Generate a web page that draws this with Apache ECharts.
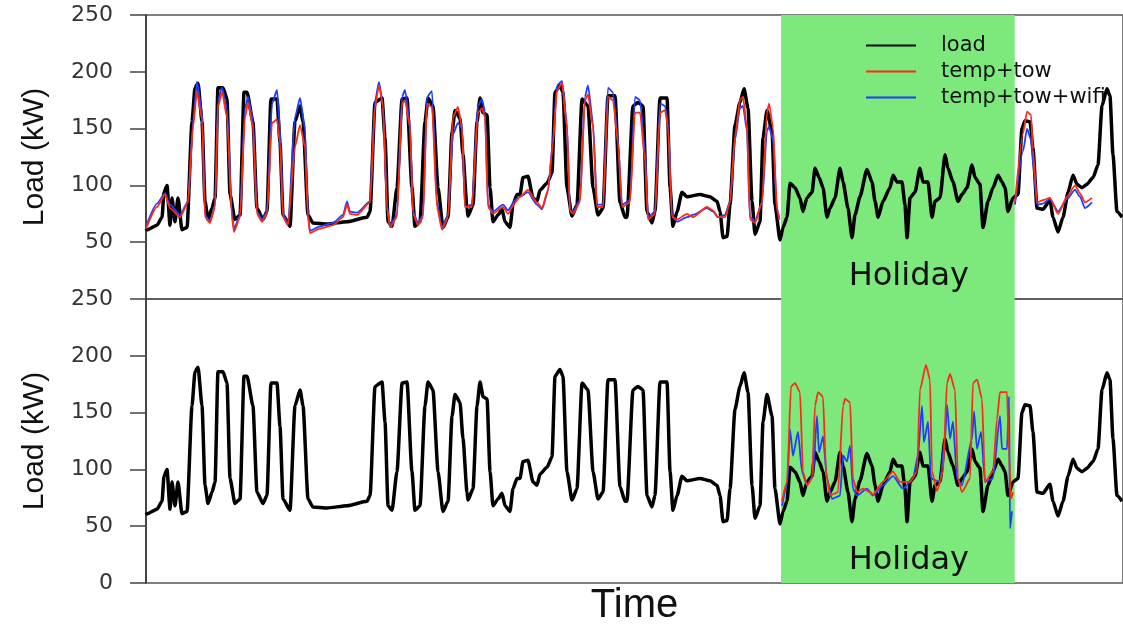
<!DOCTYPE html>
<html>
<head>
<meta charset="utf-8">
<script src="https://cdn.jsdelivr.net/npm/echarts@6/dist/echarts.min.js"></script>
<style>
  html, body { margin: 0; padding: 0; background: #fff; }
  #chart { width: 1123px; height: 627px; }
</style>
</head>
<body>
<div id="chart"></div>
<script>
// time in hours from the start of the record, load in kW
const load = [
  [0,60],[1,61],[10.2,65],[14.9,72],[16.7,94],[19.5,100],[22.3,65],[24.1,89],[26.9,68],[29.7,89],[33.4,61],[38.1,63],
  [42.7,156],[45.5,186],[48.3,190],[52.0,156],[54.8,86],[57.6,70],[61.3,80],[64.1,89],
  [66.8,186],[71.5,186],[75.2,176],[78.0,92],[82.6,70],[87.3,74],
  [91.0,182],[93.8,182],[99.3,156],[103.0,80],[108.6,70],[112.3,77],
  [116.0,176],[121.6,176],[124.4,138],[127.2,74],[133.7,64],
  [138.3,156],[143.0,170],[145.8,156],[150.4,74],[155.0,67],[168.0,66],[186.6,68],[205.2,72],[208.0,77],
  [212.6,173],[219.1,177],[221.9,142],[224.7,68],[228.4,64],[233.0,98],
  [237.7,176],[242.3,177],[246.9,98],[249.7,64],[254.4,68],
  [259.0,156],[261.8,177],[266.4,170],[271.1,98],[275.7,63],[280.4,72],
  [284.1,147],[286.9,166],[291.5,159],[294.3,127],[298.0,80],[298.9,73],[303.6,83],
  [307.3,156],[310.1,177],[312.9,164],[316.6,162],[319.4,98],[322.1,68],
  [326.8,74],[330.5,79],[333.3,68],[337.9,63],[340.7,83],[344.4,92],[347.2,92],[350.0,107],[354.6,108],
  [359.3,89],[363.0,86],[365.8,96],[372.3,102],[376.9,111],
  [379.7,182],[384.3,188],[387.1,182],[390.8,98],[395.5,73],[400.1,83],
  [404.8,176],[410.3,170],[415.0,98],[419.6,74],[424.3,80],
  [428.9,179],[435.4,179],[440.0,85],[444.7,72],[446.5,72],
  [452.1,170],[456.7,173],[461.4,170],[465.1,77],[469.7,67],[472.5,77],
  [477.2,177],[483.7,177],[486.5,98],[489.2,64],[493.0,77],[497.6,94],[502.2,90],[514.3,92],[523.6,90],
  [530.1,86],[532.9,77],[535.7,54],[539.4,55],[542.2,83],
  [546.8,153],[551.4,173],[555.2,185],[558.9,168],[562.6,86],[565.4,57],[570.0,68],
  [572.8,142],[576.5,166],[581.2,147],[583.9,83],[588.6,52],[591.4,63],
  [595.1,72],[597.9,102],[602.5,98],[607.1,89],[609.9,77],[613.6,89],[618.3,94],[621.1,115],[624.8,107],
  [628.5,98],[632.2,72],[635.0,80],[639.6,89],[644.3,115],[647.1,103],[651.7,80],[655.4,54],[658.2,74],
  [662.8,90],[669.3,114],[674.0,103],[676.8,86],[679.6,72],[684.2,86],[690.7,98],[693.5,109],[697.2,103],
  [701.8,103],[704.6,83],[706.5,54],[709.3,89],[713.9,94],[718.5,115],[721.3,103],[726.0,103],[729.7,72],
  [732.5,86],[737.1,89],[741.8,127],[744.5,115],[749.2,103],[753.8,86],[757.5,92],[762.2,98],[766.8,118],
  [769.6,107],[774.2,101],[777.0,63],[781.7,86],[786.3,98],[791.0,109],[794.7,103],[797.5,98],[800.2,77],
  [804.9,89],[809.5,92],[813.2,150],[816.0,157],[820.7,156],[823.4,133],[827.2,80],[832.7,79],[839.2,87],
  [842.0,72],[846.7,59],[851.3,72],[856.0,94],[860.6,109],[864.3,101],[868.9,98],[873.6,101],[879.2,107],
  [883.8,118],[887.5,170],[892.1,185],[894.9,179],[897.7,127],[901.4,77],[906.1,72]
];

// predictions on normal days (upper panel)
const tempTow = [
  [0,62],[10.2,81],[17.6,92],[22.3,80],[31.6,72],[39.0,85],
  [43.6,151],[47.3,182],[52.0,158],[54.8,72],[59.4,67],[64.1,81],
  [66.8,169],[70.6,182],[75.2,160],[79.8,72],[81.7,59],[87.3,72],
  [91.9,160],[94.7,173],[99.3,151],[103.0,75],[107.7,68],[112.3,75],
  [117.0,155],[121.6,158],[124.4,137],[127.2,72],[131.8,65],
  [138.3,134],[143.0,153],[147.6,134],[150.4,72],[152.2,58],[161.5,62],[173.6,65],[182.9,72],[186.6,83],
  [189.4,75],[195.9,74],[208.0,85],
  [212.6,169],[216.3,188],[220.0,169],[223.7,81],[226.5,63],[233.0,72],
  [237.7,172],[240.4,175],[245.1,151],[247.9,75],[252.5,65],[257.2,72],
  [260.9,172],[265.5,169],[270.1,81],[274.8,61],[280.4,72],
  [285.0,160],[289.6,169],[293.4,151],[296.1,81],[302.6,81],
  [308.2,164],[311.9,168],[314.7,160],[317.5,81],[322.1,75],
  [331.4,81],[336.1,75],[342.6,85],[347.2,90],[354.6,96],[363.0,85],[367.6,80],[373.2,96],
  [377.8,137],[381.6,184],[386.2,190],[390.8,151],[393.6,78],[396.4,75],[402.9,85],
  [407.5,175],[410.3,180],[415.0,151],[418.7,81],[424.3,81],
  [428.9,178],[433.5,175],[438.2,137],[441.9,81],[449.3,85],
  [454.0,164],[458.6,164],[463.3,122],[466.0,70],[472.5,75],
  [477.2,164],[481.8,166],[484.6,151],[488.3,72],[493.0,70],[502.2,75],[507.8,72],[520.8,81],[526.4,78],
  [531.0,72],[537.5,72],[542.2,85],
  [546.8,143],[551.4,175],[554.2,178],[557.9,151],[560.7,70],[565.4,67],[571.9,85],
  [576.5,164],[578.4,172],[582.1,151],[585.8,78],[588.0,70],
  [700,null],
  [806.7,85],[814.2,146],[817.9,165],[821.6,162],[823.4,131],[827.2,85],[832.7,87],[839.2,89],
  [846.7,75],[855.0,90],[862.5,100],[867.1,93],[871.7,85],[878.2,89]
];

const tempTowWifi = [
  [0,64],[10.2,84],[17.6,93],[22.3,83],[31.6,74],[39.0,86],
  [43.6,155],[47.3,191],[52.0,165],[54.8,74],[59.4,68],[64.1,83],
  [66.8,175],[70.6,186],[75.2,168],[79.8,74],[81.7,62],[87.3,74],
  [91.9,168],[94.7,178],[99.3,158],[103.0,77],[107.7,70],[112.3,77],
  [117.0,172],[121.6,184],[124.4,150],[127.2,75],[131.8,66],
  [138.3,160],[143.0,177],[147.6,150],[150.4,74],[152.2,60],[161.5,64],[173.6,67],[182.9,74],[186.6,86],
  [189.4,77],[195.9,76],[208.0,86],
  [212.6,174],[216.3,191],[220.0,171],[223.7,82],[226.5,65],[233.0,74],
  [237.7,178],[240.4,184],[245.1,155],[247.9,77],[252.5,67],[257.2,74],
  [260.9,178],[265.5,183],[270.1,85],[274.8,63],[280.4,74],
  [285.0,145],[289.6,155],[293.4,150],[296.1,81],[302.6,83],
  [308.2,170],[311.9,176],[314.7,165],[317.5,83],[322.1,77],
  [331.4,83],[336.1,78],[342.6,87],[347.2,90],[354.6,94],[363.0,83],[367.6,79],[373.2,95],
  [377.8,140],[381.6,188],[386.2,192],[390.8,155],[393.6,78],[396.4,77],[402.9,87],
  [407.5,178],[410.3,188],[415.0,155],[418.7,83],[424.3,83],
  [428.9,186],[433.5,182],[438.2,140],[441.9,83],[449.3,87],
  [454.0,178],[458.6,175],[463.3,130],[466.0,72],[472.5,77],
  [477.2,172],[481.8,170],[484.6,155],[488.3,74],[493.0,68],[502.2,72],[507.8,74],[520.8,80],[526.4,77],
  [531.0,72],[537.5,74],[542.2,86],
  [546.8,140],[551.4,168],[554.2,170],[557.9,148],[560.7,72],[565.4,69],[571.9,85],
  [576.5,148],[578.4,152],[582.1,140],[585.8,80],[588.0,70],
  [700,null],
  [806.7,83],[814.2,130],[817.9,150],[821.6,140],[823.4,120],[827.2,83],[832.7,84],[839.2,88],
  [846.7,77],[855.0,88],[862.5,96],[867.1,90],[871.7,80],[878.2,85]
];

// predictions during the holiday (lower panel)
const holTempTow = [
  [590.4,72],[595.1,89],[598.8,173],[602.5,176],[607.1,168],[609.9,98],[613.6,86],[618.3,92],
  [621.1,156],[623.9,168],[628.5,164],[631.3,98],[635.0,77],[642.4,80],
  [647.1,156],[649.0,162],[653.6,159],[656.3,92],[660.1,80],[665.7,83],[672.1,80],[674.9,78],
  [684.2,89],[693.5,98],[700.0,89],[709.3,89],[715.8,98],
  [718.5,170],[724.1,192],[727.8,179],[729.7,98],[734.3,81],[739.9,98],
  [743.6,176],[746.4,184],[751.0,170],[753.8,92],[757.5,80],[765.0,92],
  [767.7,176],[771.5,179],[776.1,162],[778.9,89],[786.3,98],
  [790.0,144],[792.8,168],[799.3,168],[801.2,115],[803.0,74],[804.9,80]
];

const holTempTowWifi = [
  [590.4,68],[595.1,86],[597.9,135],[600.6,112],[605.3,133],[609.0,98],[613.6,86],[619.2,94],
  [622.9,147],[624.8,115],[628.5,129],[632.2,92],[636.9,74],[644.3,77],
  [647.1,112],[650.8,107],[653.6,121],[656.3,83],[660.1,77],[669.3,83],[674.9,77],
  [684.2,86],[693.5,94],[702.8,83],[712.0,92],[716.7,112],
  [720.4,156],[722.2,124],[726.0,142],[728.8,92],[737.1,89],
  [741.8,127],[743.6,157],[746.4,127],[749.2,142],[752.9,92],[757.5,86],
  [766.8,127],[768.7,151],[771.5,118],[775.2,133],[778.9,89],[786.3,92],
  [792.8,147],[794.7,118],[799.3,118],[801.2,164],[802.1,48],[803.9,63]
];

const holiday = [589.5, 806.5];
const yTicks = [0, 50, 100, 150, 200, 250];

const chart = echarts.init(document.getElementById('chart'));

const sans = 'Liberation Sans, Arial, Helvetica, sans-serif';
const wide = 'DejaVu Sans, sans-serif';

function yAxisFor(gridIndex, hideZero) {
  return {
    type: 'value', gridIndex: gridIndex,
    min: yTicks[0], max: yTicks[yTicks.length - 1], interval: 50,
    name: 'Load (kW)', nameLocation: 'middle', nameGap: 96,
    nameTextStyle: { fontSize: 30, fontFamily: sans, color: '#111' },
    axisLine: { show: true, lineStyle: { color: '#333', width: 1.5 } },
    axisTick: { show: true, length: 16, lineStyle: { color: '#444', width: 1.5 } },
    axisLabel: {
      margin: 33, fontSize: 22, fontFamily: wide, color: '#333',
      formatter: v => (hideZero && v === 0) ? '' : String(v)
    },
    splitLine: { show: false }
  };
}

function xAxisFor(gridIndex, withName) {
  const ax = {
    type: 'value', gridIndex: gridIndex, min: 0, max: 907,
    axisLine: { show: false }, axisTick: { show: false },
    axisLabel: { show: false }, splitLine: { show: false }
  };
  if (withName) {
    ax.name = 'Time';
    ax.nameLocation = 'middle';
    ax.nameGap = 3;
    ax.nameTextStyle = { fontSize: 40, fontFamily: sans, color: '#111', verticalAlign: 'top' };
  }
  return ax;
}

function holidayArea() {
  return {
    silent: true,
    itemStyle: { color: '#7de87b', opacity: 1 },
    label: {
      show: true, position: 'insideBottom', distance: 6, offset: [11, 0],
      fontSize: 32, fontFamily: wide, color: '#111'
    },
    data: [[{ xAxis: holiday[0], name: 'Holiday' }, { xAxis: holiday[1] }]]
  };
}

function line(name, data, color, width, xi, extra) {
  return Object.assign({
    name: name, type: 'line', data: data,
    xAxisIndex: xi, yAxisIndex: xi,
    showSymbol: false, symbol: 'none', connectNulls: false,
    smooth: 0.2, smoothMonotone: 'x',
    lineStyle: { color: color, width: width },
    itemStyle: { color: color },
    emphasis: { disabled: true }
  }, extra || {});
}

const black = '#000';
const red = '#ff2a14';
const blue = '#1f3dff';

chart.setOption({
  animation: false,
  backgroundColor: '#fff',
  grid: [
    { left: 146, right: 0, top: 15, height: 284, show: true, borderColor: '#555', borderWidth: 1.5 },
    { left: 146, right: 0, top: 299, height: 286, show: true, borderColor: '#555', borderWidth: 1.5 }
  ],
  xAxis: [xAxisFor(0, false), xAxisFor(1, true)],
  yAxis: [yAxisFor(0, true), yAxisFor(1, false)],
  legend: {
    data: ['load', 'temp+tow', 'temp+tow+wifi'],
    orient: 'vertical', left: 861, top: 30,
    icon: 'rect', itemWidth: 50, itemHeight: 2, itemGap: 5,
    selectedMode: false,
    textStyle: { fontSize: 21, fontFamily: wide, color: '#111', lineHeight: 21, padding: [0, 0, 0, 20] }
  },
  series: [
    line('load', load, black, 3.5, 0, { markArea: holidayArea() }),
    line('temp+tow+wifi', tempTowWifi, blue, 1.8, 0),
    line('temp+tow', tempTow, red, 1.8, 0),
    line('load', load, black, 3.5, 1, { markArea: holidayArea() }),
    line('temp+tow+wifi', holTempTowWifi, blue, 1.8, 1),
    line('temp+tow', holTempTow, red, 1.8, 1)
  ]
});
</script>
</body>
</html>
